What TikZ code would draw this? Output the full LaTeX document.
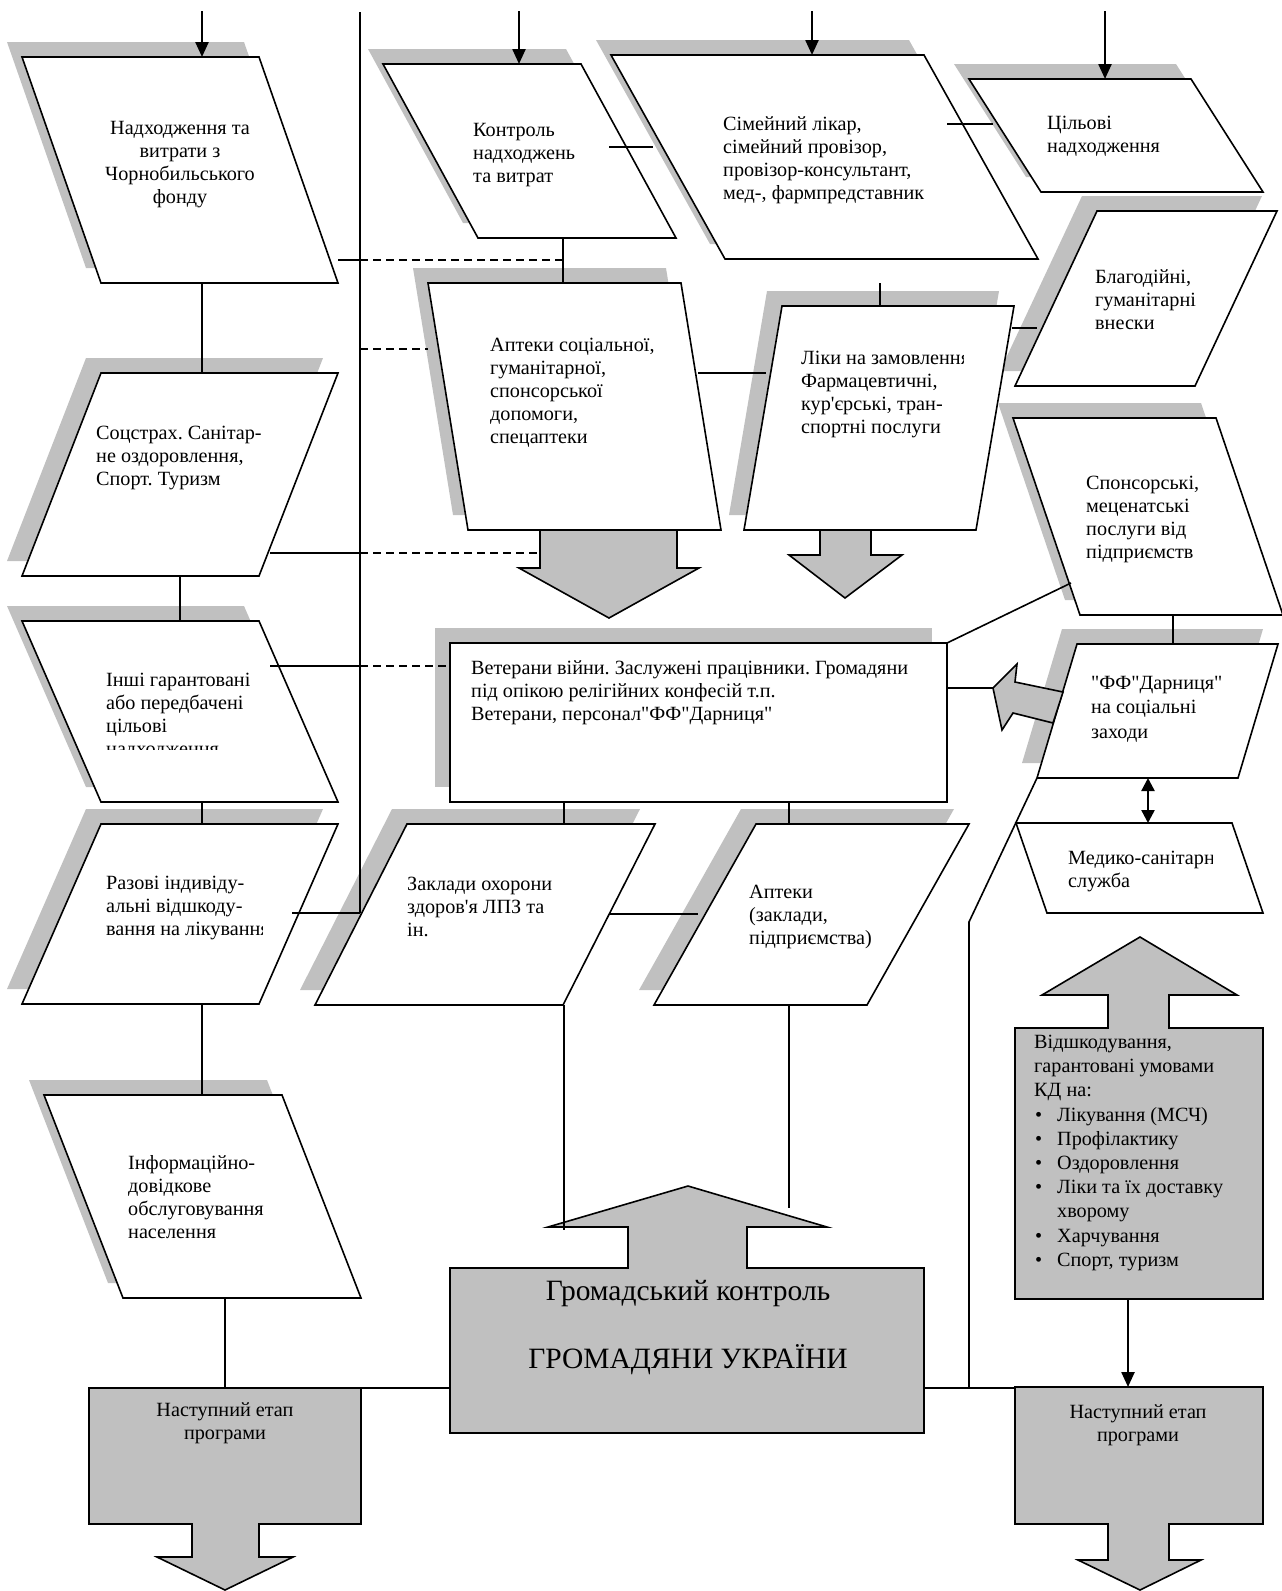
\documentclass[tikz,border=0pt]{standalone}
\usepackage{fontspec}
\setmainfont{Liberation Serif}
\usetikzlibrary{arrows.meta}
\frenchspacing

\definecolor{shadegray}{RGB}{192,192,192}
\tikzset{
  box/.style={draw,line width=1.6pt,fill=white},
  shade/.style={fill=shadegray},
  blk/.style={draw,line width=1.6pt,fill=shadegray},
  lbl/.style={anchor=north west,inner sep=0pt,align=left,yshift=-3pt,
    font=\fontsize{20.2}{23}\selectfont,execute at begin node=\strut},
  clbl/.style={lbl,anchor=north,align=center},
  big/.style={anchor=base,inner sep=0pt,font=\fontsize{29.5}{34}\selectfont},
  link/.style={line width=1.6pt},
  dlink/.style={line width=2.2pt,dash pattern=on 8pt off 5pt},
  feed/.style={line width=2.4pt,-{Triangle[length=15pt,width=13pt]}},
}

% slanted box with shadow: name, top-left x, bottom-left x, top y, bottom y, width
\newcommand{\slantbox}[6]{%
  \fill[shade] (#2-15,#4-15) -- ++(#6,0) -- (#3+#6-15,#5-15) -- ++(-#6,0) -- cycle;
  \draw[box] (#2,#4) coordinate (#1-tl) -- ++(#6,0) coordinate (#1-tr)
    -- (#3+#6,#5) coordinate (#1-br) -- ++(-#6,0) coordinate (#1-bl) -- cycle;
}
\newcommand{\kdbul}{\makebox[23pt][l]{\hspace{1pt}\textbullet}}
\newcommand{\qq}{\textquotedbl}

\begin{document}
\begin{tikzpicture}[x=1pt,y=-1pt]
\useasboundingbox (0,0) rectangle (1282,1591);

% boxes
\slantbox{nadkh}{22}{101}{57}{283}{237}
\slantbox{kontr}{383}{478}{64}{238}{198}
\slantbox{simeyn}{611}{725}{55}{259}{313}
\slantbox{tsil}{969}{1041}{79}{192}{222}
\slantbox{blag}{1097}{1015}{211}{386}{180}
\slantbox{aptsoc}{428}{468}{283}{530}{253}
\slantbox{liky}{782}{744}{306}{530}{232}
\slantbox{sponsor}{1013}{1080}{418}{615}{203}
\slantbox{socstr}{101}{22}{373}{576}{237}
\slantbox{inshi}{22}{101}{621}{802}{237}
\fill[shade] (435,628) rectangle (932,787);
\draw[box] (450,643) rectangle (947,802);
\slantbox{ff}{1077}{1037}{644}{778}{201}
\draw[box] (1016,823) -- (1232,823) -- (1263,913) -- (1047,913) -- cycle;
\slantbox{razovi}{101}{22}{824}{1004}{237}
\slantbox{zaklady}{407}{315}{824}{1005}{248}
\slantbox{apt2}{756}{654}{824}{1005}{213}
\slantbox{inform}{44}{123}{1095}{1298}{238}

% block arrows
\draw[blk] (540,530) -- (540,568) -- (519,568) -- (609,618) -- (699,568) -- (677,568) -- (677,530) -- cycle;
\draw[blk] (820,530) -- (820,555) -- (789,555) -- (845,598) -- (902,555) -- (871,555) -- (871,530) -- cycle;
\draw[blk] (1063,692) -- (1015,682) -- (1017,664) -- (993,688) -- (1002,730) -- (1013,713) -- (1053,723) -- cycle;
\draw[blk] (450,1268) -- (628,1268) -- (628,1227) -- (548,1227) -- (688,1186) -- (827,1227) -- (747,1227)
  -- (747,1268) -- (924,1268) -- (924,1433) -- (450,1433) -- cycle;
\draw[blk] (1015,1028) -- (1108,1028) -- (1108,995) -- (1042,995) -- (1140,937) -- (1237,995) -- (1169,995)
  -- (1169,1028) -- (1263,1028) -- (1263,1299) -- (1015,1299) -- cycle;
\draw[blk] (89,1388) -- (361,1388) -- (361,1524) -- (259,1524) -- (259,1557) -- (293,1557) -- (225,1590)
  -- (157,1557) -- (192,1557) -- (192,1524) -- (89,1524) -- cycle;
\draw[blk] (1015,1387) -- (1263,1387) -- (1263,1524) -- (1169,1524) -- (1169,1560) -- (1201,1560) -- (1140,1590)
  -- (1078,1560) -- (1108,1560) -- (1108,1524) -- (1015,1524) -- cycle;

% texts
\node[clbl] (nadkh) at (180,118) {Надходження та\\витрати з\\Чорнобильського\\фонду};
\node[lbl] (kontr) at (473,120) {Контроль\\надходжень\\та витрат};
\node[lbl] (simeyn) at (723,113) {Сімейний лікар,\\сімейний провізор,\\провізор-консультант,\\мед-, фармпредставник};
\node[lbl] (tsil) at (1047,113) {Цільові\\надходження};
\node[lbl] (blag) at (1095,266) {Благодійні,\\гуманітарні\\внески};
\node[lbl] (aptsoc) at (490,335) {Аптеки соціальної,\\гуманітарної,\\спонсорської\\допомоги,\\спецаптеки};
\begin{scope}
  \clip (780,320) rectangle (963,460);
  \node[lbl] (liky) at (801,348) {Ліки на замовлення\\Фармацевтичні,\\кур\textquotesingle єрські, тран-\\спортні послуги};
\end{scope}
\node[lbl] (sponsor) at (1086,473) {Спонсорські,\\меценатські\\послуги від\\підприємств};
\node[lbl] (socstr) at (96,423) {Соцстрах. Санітар-\\не оздоровлення,\\Спорт. Туризм};
\begin{scope}
  \clip (90,640) rectangle (300,749);
  \node[lbl] (inshi) at (106,670) {Інші гарантовані\\або передбачені\\цільові\\надходження};
\end{scope}
\node[lbl] (veter) at (471,657) {Ветерани війни. Заслужені працівники. Громадяни\\під опікою релігійних конфесій т.п.\\Ветерани, персонал\qq ФФ\qq Дарниця\qq};
\node[lbl,font=\fontsize{20.2}{24.5}\selectfont] (ff) at (1091,673) {\qq ФФ\qq Дарниця\qq\\на соціальні\\заходи};
\begin{scope}
  \clip (1050,830) rectangle (1212,905);
  \node[lbl] (medyko) at (1068,848) {Медико-санітарна\\служба};
\end{scope}
\begin{scope}
  \clip (90,860) rectangle (262,950);
  \node[lbl] (razovi) at (106,873) {Разові індивіду-\\альні відшкоду-\\вання на лікування};
\end{scope}
\node[lbl] (zaklady) at (407,874) {Заклади охорони\\здоров\textquotesingle я ЛПЗ та\\ін.};
\node[lbl] (apt2) at (749,882) {Аптеки\\(заклади,\\підприємства)};
\node[lbl] (inform) at (128,1152) {Інформаційно-\\довідкове\\обслуговування\\населення};
\node[big] (gromad) at (688,1300) {Громадський контроль};
\node[big] (citizens) at (688,1368) {ГРОМАДЯНИ УКРАЇНИ};
\node[lbl,font=\fontsize{20.2}{24.2}\selectfont] (vidshk) at (1034,1032) {Відшкодування,\\гарантовані умовами\\КД на:\\
  \kdbul Лікування (МСЧ)\\\kdbul Профілактику\\\kdbul Оздоровлення\\\kdbul Ліки та їх доставку\\
  \hspace*{23pt}хворому\\\kdbul Харчування\\\kdbul Спорт, туризм};
\node[clbl] (nast1) at (225,1399) {Наступний етап\\програми};
\node[clbl] (nast2) at (1138,1401) {Наступний етап\\програми};

% connection points
\coordinate (in1) at (202,11); \coordinate (in2) at (519,11);
\coordinate (in3) at (812,11); \coordinate (in4) at (1105,11);
\coordinate (sp-t) at (360,12); \coordinate (sp-b) at (360,913);
\coordinate (a1) at (202,283); \coordinate (a2) at (202,373);
\coordinate (a3) at (180,576); \coordinate (a4) at (180,621);
\coordinate (a5) at (202,802); \coordinate (a6) at (202,824);
\coordinate (a7) at (202,1004); \coordinate (a8) at (202,1095);
\coordinate (a9) at (225,1298); \coordinate (a10) at (225,1388);
\coordinate (b1) at (338,260); \coordinate (b2) at (360,260); \coordinate (b3) at (563,260);
\coordinate (b4) at (563,238); \coordinate (b5) at (563,283);
\coordinate (b6) at (360,349); \coordinate (b7) at (428,349);
\coordinate (b8) at (270,553); \coordinate (b9) at (360,553); \coordinate (b10) at (540,553);
\coordinate (b11) at (270,666); \coordinate (b12) at (360,666); \coordinate (b13) at (450,666);
\coordinate (b14) at (292,913);
\coordinate (c1) at (609,147); \coordinate (c2) at (653,147);
\coordinate (c3) at (947,124); \coordinate (c4) at (993,124);
\coordinate (c5) at (698,373); \coordinate (c6) at (766,373);
\coordinate (c7) at (880,283); \coordinate (c8) at (880,306);
\coordinate (c9) at (1012,328); \coordinate (c10) at (1037,328);
\coordinate (c11) at (947,643); \coordinate (c12) at (1071,583);
\coordinate (c13) at (947,688); \coordinate (c14) at (993,688);
\coordinate (c15) at (1173,615); \coordinate (c16) at (1173,644);
\coordinate (c17) at (1148,778); \coordinate (c18) at (1148,823);
\coordinate (c19) at (1037,778); \coordinate (c20) at (969,922); \coordinate (c21) at (969,1388);
\coordinate (e1) at (361,1388); \coordinate (e2) at (450,1388);
\coordinate (e3) at (924,1388); \coordinate (e4) at (1015,1388);
\coordinate (e5) at (564,802); \coordinate (e6) at (564,824);
\coordinate (e7) at (789,802); \coordinate (e8) at (789,824);
\coordinate (e9) at (609,914); \coordinate (e10) at (698,914);
\coordinate (e11) at (564,1005); \coordinate (e12) at (564,1230);
\coordinate (e13) at (789,1005); \coordinate (e14) at (789,1208);
\coordinate (e15) at (1128,1299); \coordinate (e16) at (1128,1387);

% connectors
\draw[feed] (in1) -- (in1 |- nadkh-tl);
\draw[feed] (in2) -- (in2 |- kontr-tl);
\draw[feed] (in3) -- (in3 |- simeyn-tl);
\draw[feed] (in4) -- (in4 |- tsil-tl);
\draw[link] (sp-t) -- (sp-b);
\draw[link] (a1) -- (a2);
\draw[link] (a3) -- (a4);
\draw[link] (a5) -- (a6);
\draw[link] (a7) -- (a8);
\draw[link] (a9) -- (a10);
\draw[link] (b1) -- (b2);
\draw[dlink] (b2) -- (b3);
\draw[link] (b4) -- (b5);
\draw[dlink] (b6) -- (b7);
\draw[link] (b8) -- (b9);
\draw[dlink] (b9) -- (b10);
\draw[link] (b11) -- (b12);
\draw[dlink] (b12) -- (b13);
\draw[link] (b14) -- (sp-b);
\draw[link] (c1) -- (c2);
\draw[link] (c3) -- (c4);
\draw[link] (c5) -- (c6);
\draw[link] (c7) -- (c8);
\draw[link] (c9) -- (c10);
\draw[link] (c11) -- (c12);
\draw[link] (c13) -- (c14);
\draw[link] (c15) -- (c16);
\draw[line width=2.4pt,{Triangle[length=13pt,width=13pt]}-{Triangle[length=13pt,width=13pt]}] (c17) -- (c18);
\draw[link] (c19) -- (c20) -- (c21);
\draw[link] (e1) -- (e2);
\draw[link] (e3) -- (e4);
\draw[link] (e5) -- (e6);
\draw[link] (e7) -- (e8);
\draw[link] (e9) -- (e10);
\draw[link] (e11) -- (e12);
\draw[link] (e13) -- (e14);
\draw[feed] (e15) -- (e16);
\end{tikzpicture}
\end{document}
